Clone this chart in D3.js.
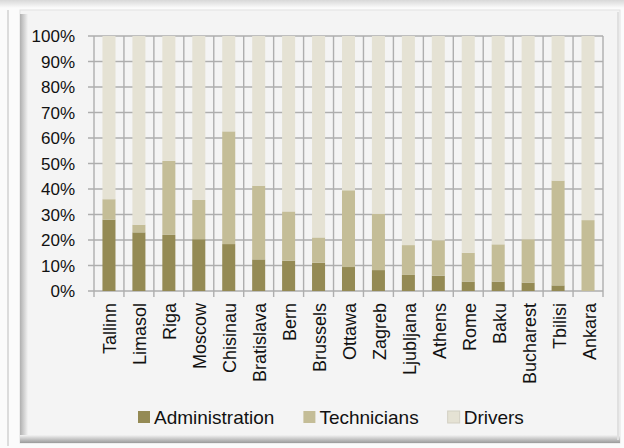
<!DOCTYPE html>
<html><head><meta charset="utf-8">
<script src="https://cdn.jsdelivr.net/npm/d3@7"></script>
<style>html,body{margin:0;padding:0;background:#fbfbfb;}svg{display:block;}</style>
</head><body>
<svg id="chart" width="624" height="448"></svg>
<script>
const cities = ["Tallinn","Limasol","Riga","Moscow","Chisinau","Bratislava","Bern","Brussels","Ottawa","Zagreb","Ljubljana","Athens","Rome","Baku","Bucharest","Tbilisi","Ankara"];
const administration = [28, 23, 22, 20.3, 18.4, 12.4, 11.9, 11.1, 9.4, 8.2, 6.3, 6.0, 3.7, 3.7, 3.3, 2.2, 0];
const technicians = [8, 3, 29, 15.4, 44.2, 28.9, 19.3, 9.9, 30.1, 22.1, 11.7, 13.9, 11.3, 14.6, 17, 41.1, 27.8];
const drivers = [64, 74, 49, 64.3, 37.4, 58.7, 68.8, 79, 60.5, 69.7, 82, 80.1, 85, 81.7, 79.7, 56.7, 72.2];
const seriesNames = ["Administration","Technicians","Drivers"];
const yTicks = [0,0.1,0.2,0.3,0.4,0.5,0.6,0.7,0.8,0.9,1];
const colors = ["#948a54","#c4bd97","#e5e2d4"];

const svg = d3.select("#chart");
const defs = svg.append("defs");
const gb = defs.append("linearGradient").attr("id","gb").attr("x1",0).attr("y1",0).attr("x2",0).attr("y2",1);
gb.append("stop").attr("offset","0%").attr("stop-color","#f3f3f3");
gb.append("stop").attr("offset","100%").attr("stop-color","#9a9a9a");
const gl = defs.append("linearGradient").attr("id","gl").attr("x1",1).attr("y1",0).attr("x2",0).attr("y2",0);
gl.append("stop").attr("offset","0%").attr("stop-color","#f3f3f3");
gl.append("stop").attr("offset","100%").attr("stop-color","#b0b0b0");
const gt = defs.append("linearGradient").attr("id","gt").attr("x1",0).attr("y1",0).attr("x2",0).attr("y2",1);
gt.append("stop").attr("offset","0%").attr("stop-color","#d8d8d8");
gt.append("stop").attr("offset","100%").attr("stop-color","#fbfbfb");

// frame
svg.append("rect").attr("x",0).attr("y",0).attr("width",624).attr("height",8).attr("fill","url(#gt)");
svg.append("line").attr("x1",8).attr("x2",8).attr("y1",10).attr("y2",446).attr("stroke","#dcdcdc").attr("stroke-width",2);
svg.append("rect").attr("x",20).attr("y",10).attr("width",600).attr("height",433).attr("fill","#f4f4f4");
svg.append("rect").attr("x",20).attr("y",10).attr("width",600).attr("height",433).attr("fill","none").attr("stroke","#e2e2e2");
svg.append("rect").attr("x",20).attr("y",14).attr("width",8).attr("height",429).attr("fill","url(#gl)");
svg.append("rect").attr("x",20).attr("y",435).attr("width",600).attr("height",8).attr("fill","url(#gb)");
svg.append("line").attr("x1",618).attr("x2",618).attr("y1",12).attr("y2",440).attr("stroke","#e0e0e0").attr("stroke-width",2);

const plotLeft = 94, plotRight = 603, plotTop = 36, plotBottom = 291;
const x = d3.scaleBand().domain(cities).range([plotLeft, plotRight]).paddingInner(0.565).paddingOuter(0.2825);
const y = d3.scaleLinear().domain([0,1]).range([plotBottom, plotTop]);
const step = x.step();

// gridlines
const grid = svg.append("g").attr("stroke","#aeaeae").attr("stroke-width",1.4);
grid.selectAll("line.h").data(yTicks).join("line").attr("class","h")
  .attr("x1", plotLeft-6).attr("x2", plotRight).attr("y1", d=>y(d)).attr("y2", d=>y(d));
const bounds = d3.range(cities.length+1);
grid.selectAll("line.v").data(bounds).join("line").attr("class","v")
  .attr("x1", i=>plotLeft+i*step).attr("x2", i=>plotLeft+i*step)
  .attr("y1", plotTop).attr("y2", plotBottom+6);

// data
const table = cities.map((c,i)=>({city:c, Administration:administration[i], Technicians:technicians[i], Drivers:drivers[i]}));
const stack = d3.stack().keys(seriesNames).offset(d3.stackOffsetExpand);
const series = stack(table);

svg.append("g").selectAll("g").data(series).join("g")
  .attr("fill",(d,i)=>colors[i])
  .selectAll("rect").data(d=>d).join("rect")
  .attr("x", d=>x(d.data.city))
  .attr("width", x.bandwidth())
  .attr("y", d=>y(d[1]))
  .attr("height", d=>y(d[0])-y(d[1]));

// y labels
const fmt = d3.format(".0%");
svg.append("g").selectAll("text").data(yTicks).join("text")
  .attr("x", 75).attr("y", d=>y(d)).attr("dy","0.36em")
  .attr("text-anchor","end")
  .attr("font-family","Liberation Sans, Arial, sans-serif").attr("font-size",17)
  .attr("fill","#111").text(d=>fmt(d));

// x labels
svg.append("g").selectAll("text").data(cities).join("text")
  .attr("transform", d=>`translate(${x(d)+x.bandwidth()/2+1},${plotBottom+12}) rotate(-90)`)
  .attr("dy","0.36em")
  .attr("text-anchor","end")
  .attr("font-family","Liberation Sans, Arial, sans-serif").attr("font-size",18)
  .attr("fill","#111").text(d=>d);

// legend
const legend = svg.append("g");
let lx = 138;
seriesNames.forEach((name,i)=>{
  const g = legend.append("g");
  g.append("rect").attr("x", lx).attr("y", 411).attr("width", 12).attr("height", 12)
    .attr("fill", colors[i]).attr("stroke", i===2 ? "#d2cfc2" : "none");
  const t = g.append("text").attr("x", lx+16).attr("y", 417).attr("dy","0.36em")
    .attr("font-family","Liberation Sans, Arial, sans-serif").attr("font-size",19)
    .attr("fill","#111").text(name);
  const w = t.node().getComputedTextLength();
  lx = lx + 16 + w + 29;
});
</script>
</body></html>
